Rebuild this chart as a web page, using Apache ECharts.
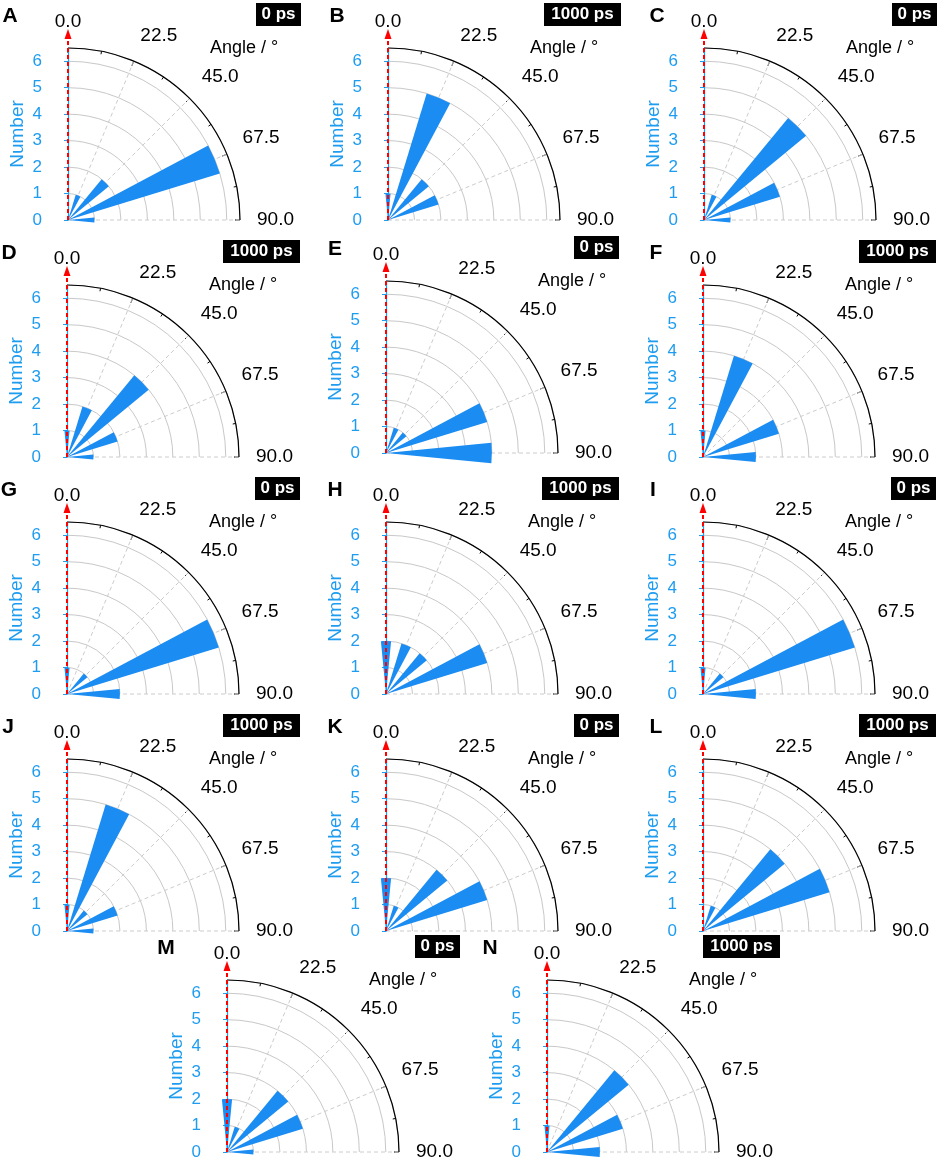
<!DOCTYPE html>
<html>
<head>
<meta charset="utf-8">
<script src="https://cdn.jsdelivr.net/npm/echarts@6/dist/echarts.min.js"></script>
<style>
  html, body { margin: 0; padding: 0; background: #fff; }
  #chart { width: 941px; height: 1164px; }
</style>
</head>
<body>
<div id="chart"></div>
<script>
// angle bins of the rose histograms (degrees)
const angleBins = ["0.0", "22.5", "45.0", "67.5", "90.0"];
const numberTicks = [0, 1, 2, 3, 4, 5, 6];

const panelLetters = ["A", "B", "C", "D", "E", "F", "G", "H", "I", "J", "K", "L", "M", "N"];
const panelTimes = ["0 ps", "1000 ps", "0 ps", "1000 ps", "0 ps", "1000 ps", "0 ps",
  "1000 ps", "0 ps", "1000 ps", "0 ps", "1000 ps", "0 ps", "1000 ps"];

// counts per bin (0.0, 22.5, 45.0, 67.5, 90.0)
const countsA = [0, 1, 2, 6, 1];
const countsB = [1, 5, 2, 2, 0];
const countsC = [0, 1, 5, 3, 1];
const countsD = [1, 2, 4, 2, 1];
const countsE = [0, 1, 1, 4, 4];
const countsF = [1, 4, 0, 3, 2];
const countsG = [1, 0, 1, 6, 2];
const countsH = [2, 2, 2, 4, 0];
const countsI = [1, 0, 1, 6, 2];
const countsJ = [1, 5, 1, 2, 1];
const countsK = [2, 1, 3, 4, 0];
const countsL = [0, 1, 4, 5, 0];
const countsM = [2, 1, 3, 3, 1];
const countsN = [1, 0, 4, 3, 2];
const allCounts = [countsA, countsB, countsC, countsD, countsE, countsF, countsG,
  countsH, countsI, countsJ, countsK, countsL, countsM, countsN];

// layout (pixel centres of each quarter rose)
const centers = [
  [68, 220], [388, 220], [704, 220],
  [67, 457], [386, 453], [703, 457],
  [67, 694], [386, 694], [703, 694],
  [67, 931], [386, 931], [703, 931],
  [227, 1152], [547, 1152]
];
const letterDx = [-58, -51, -47, -58, -51, -47, -58, -51, -50, -59, -51, -47, -61, -57];
const angleDx = [176, 176, 176, 176, 186, 176, 176, 176, 176, 176, 176, 176, 176, 176];

const R = 172;
const RMAX = 6.5;
const barBlue = "#1a8cf2";
const axisBlue = "#1e9cf0";
const FONT = "Liberation Sans, Arial, sans-serif";

const chart = echarts.init(document.getElementById("chart"));

const polar = [], angleAxis = [], radiusAxis = [], grid = [], xAxis = [], yAxis = [];
const series = [], graphic = [];

centers.forEach(function (c, i) {
  const cx = c[0], cy = c[1];
  // display polar (grid, arc, ticks, labels)
  polar.push({ center: [cx, cy], radius: R });
  // bar polar
  polar.push({ center: [cx, cy], radius: R });

  angleAxis.push({
    polarIndex: 2 * i,
    type: "value",
    min: 0,
    max: 90,
    interval: 22.5,
    startAngle: 90,
    endAngle: 0,
    clockwise: true,
    axisLine: { lineStyle: { color: "#000", width: 1.2 } },
    axisTick: { inside: true, length: 5, lineStyle: { color: "#000", width: 1 } },
    minorTick: { show: true, splitNumber: 2, length: 3, lineStyle: { color: "#000", width: 1 } },
    axisLabel: {
      margin: 17, fontSize: 19, color: "#000", fontFamily: FONT,
      formatter: function (v) { return Number(v).toFixed(1); }
    },
    splitLine: { show: true, lineStyle: { color: "#cccccc", type: [4, 3], width: 1 } }
  });
  angleAxis.push({
    polarIndex: 2 * i + 1,
    type: "category",
    data: angleBins,
    startAngle: 101.25,
    endAngle: -11.25,
    clockwise: true,
    axisLine: { show: false },
    axisTick: { show: false },
    axisLabel: { show: false },
    splitLine: { show: false }
  });

  radiusAxis.push({
    polarIndex: 2 * i,
    type: "value",
    min: 0,
    max: RMAX,
    interval: 1,
    axisLine: { show: false },
    axisTick: { show: false },
    axisLabel: { show: false },
    splitLine: { show: true, lineStyle: { color: "#c8c8c8", width: 1 } }
  });
  radiusAxis.push({
    polarIndex: 2 * i + 1,
    type: "value",
    min: 0,
    max: RMAX,
    show: false
  });

  // cartesian strip for the offset "Number" axis and the 0° arrow
  grid.push({ left: cx - 20, top: cy - R, width: 20, height: R });
  xAxis.push({ gridIndex: i, type: "value", min: -1, max: 0, show: false });
  yAxis.push({
    gridIndex: i,
    type: "value",
    min: 0,
    max: RMAX,
    interval: 1,
    name: "Number",
    nameLocation: "middle",
    nameGap: 21,
    nameTextStyle: { color: axisBlue, fontSize: 19, fontFamily: FONT },
    axisLine: { show: true, lineStyle: { color: axisBlue, width: 1.2 } },
    axisTick: { show: true, length: 4, customValues: numberTicks, lineStyle: { color: axisBlue } },
    axisLabel: { color: axisBlue, fontSize: 17, margin: 6, fontFamily: FONT, customValues: numberTicks },
    splitLine: { show: false }
  });

  series.push({
    type: "bar",
    coordinateSystem: "polar",
    polarIndex: 2 * i + 1,
    data: allCounts[i],
    barWidth: "49%",
    itemStyle: { color: barBlue },
    z: 3,
    silent: true
  });
  series.push({
    type: "line",
    xAxisIndex: i,
    yAxisIndex: i,
    clip: false,
    data: [
      { value: [0, 0], symbol: "none" },
      { value: [0, 7.03], symbol: "triangle", symbolSize: [7, 10] }
    ],
    lineStyle: { color: "#ff0000", width: 2, type: [4, 3] },
    itemStyle: { color: "#ff0000" },
    z: 5,
    silent: true
  });

  // panel letter
  graphic.push({
    type: "text",
    x: cx + letterDx[i],
    y: cy - 204,
    style: { text: panelLetters[i], font: "bold 21px " + FONT, fill: "#000", align: "center", verticalAlign: "middle" }
  });
  // time tag
  const tagW = panelTimes[i] === "0 ps" ? 45 : 77;
  graphic.push({
    type: "rect",
    shape: { x: cx + 233 - tagW, y: cy - 217, width: tagW, height: 23 },
    style: { fill: "#000" }
  });
  graphic.push({
    type: "text",
    x: cx + 233 - tagW / 2,
    y: cy - 205.5,
    style: { text: panelTimes[i], font: "bold 17px " + FONT, fill: "#fff", align: "center", verticalAlign: "middle" }
  });
  // angle axis title
  graphic.push({
    type: "text",
    x: cx + angleDx[i],
    y: cy - 172,
    style: { text: "Angle / \u00b0", font: "18px " + FONT, fill: "#000", align: "center", verticalAlign: "middle" }
  });
});

const option = {
  animation: false,
  backgroundColor: "#fff",
  textStyle: { fontFamily: FONT },
  polar: polar,
  angleAxis: angleAxis,
  radiusAxis: radiusAxis,
  grid: grid,
  xAxis: xAxis,
  yAxis: yAxis,
  series: series,
  graphic: graphic
};

chart.setOption(option);
</script>
</body>
</html>
